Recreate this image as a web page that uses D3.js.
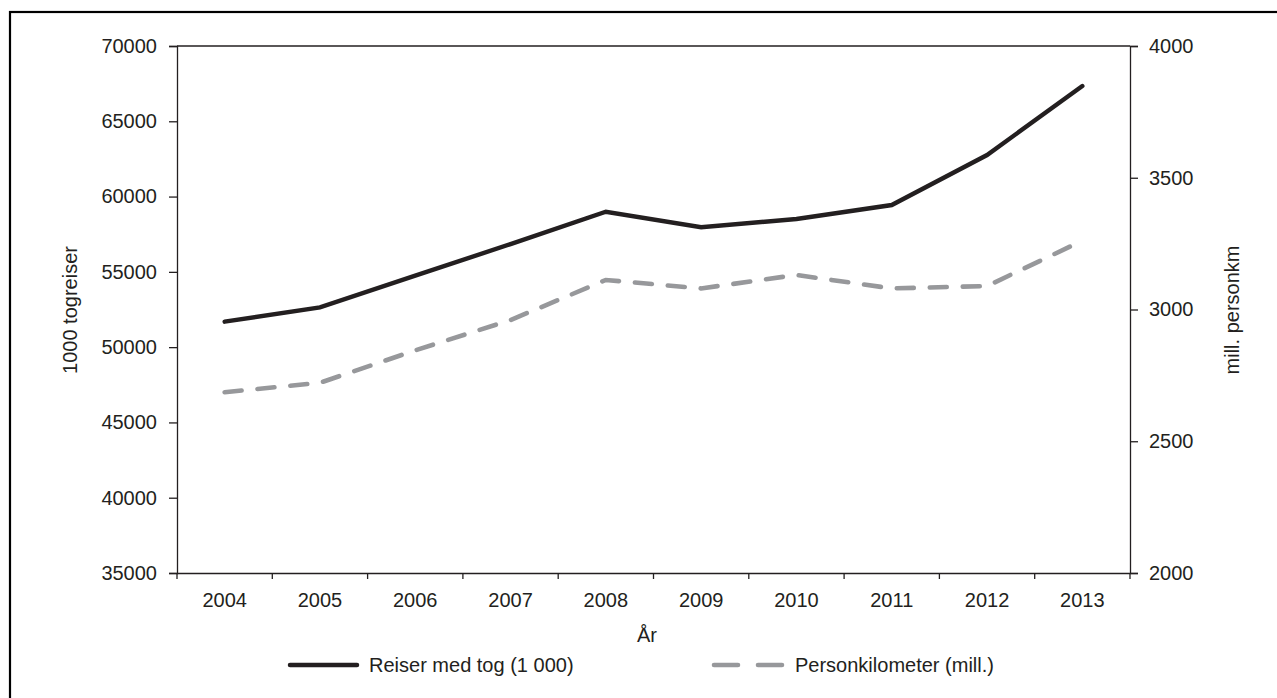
<!DOCTYPE html>
<html><head><meta charset="utf-8">
<script src="https://cdn.jsdelivr.net/npm/d3@7"></script>
<style>
body{margin:0;background:#fff;}
svg text{font-family:"Liberation Sans",Arial,sans-serif;fill:#231f20;}
</style></head>
<body><svg id="c" width="1277" height="698"></svg>
<script>
const years = ["2004","2005","2006","2007","2008","2009","2010","2011","2012","2013"];
const reiser = [51690,52645,54745,56845,58995,57960,58510,59440,62760,67340];
const personkm = [2686,2722,2845,2960,3112,3080,3131,3080,3089,3261];
const leftTicks = [35000,40000,45000,50000,55000,60000,65000,70000];
const rightTicks = [2000,2500,3000,3500,4000];
const seriesNames = ["Reiser med tog (1 000)","Personkilometer (mill.)"];

const svg = d3.select("#c");
const L=177,R=1130,T=46,B=573;
const ink="#231f20";
svg.append("rect").attr("x",10).attr("y",12).attr("width",1400).attr("height",800)
  .attr("fill","none").attr("stroke","#000").attr("stroke-width",2.2);

const x = d3.scaleBand().domain(years).range([L,R]).padding(0);
const yL = d3.scaleLinear().domain([35000,70000]).range([B,T]);
const yR = d3.scaleLinear().domain([2000,4000]).range([B,T]);

svg.append("line").attr("x1",L).attr("x2",R).attr("y1",T).attr("y2",T).attr("stroke",ink).attr("stroke-width",1.3);

const axL = svg.append("g").attr("transform",`translate(${L},0)`)
  .call(d3.axisLeft(yL).tickValues(leftTicks).tickSize(8).tickPadding(12).tickFormat(d3.format("d")));
const axR = svg.append("g").attr("transform",`translate(${R},0)`)
  .call(d3.axisRight(yR).tickValues(rightTicks).tickSize(8).tickPadding(11).tickFormat(d3.format("d")));
const axB = svg.append("g").attr("transform",`translate(0,${B})`)
  .call(d3.axisBottom(x).tickSize(0).tickPadding(20));
const bounds = years.map(y=>x(y)).concat([R]);
svg.append("g").selectAll("line").data(bounds).join("line")
  .attr("x1",d=>d).attr("x2",d=>d).attr("y1",B).attr("y2",B+6).attr("stroke",ink).attr("stroke-width",1.3);

[axL,axR,axB].forEach(a=>{
  a.selectAll("path.domain").attr("stroke",ink).attr("stroke-width",1.3);
  a.selectAll(".tick line").attr("stroke",ink).attr("stroke-width",1.3);
  a.selectAll("text").attr("font-size",20).style("font-family","'Liberation Sans',Arial,sans-serif").attr("fill",ink);
});
axB.select("path.domain").attr("d",`M${L},0.5H${R}`);

const cx = d=>x(d)+x.bandwidth()/2;
const line1 = d3.line().x((d,i)=>cx(years[i])).y(d=>yL(d));
const line2 = d3.line().x((d,i)=>cx(years[i])).y(d=>yR(d));
svg.append("path").attr("d",line1(reiser)).attr("fill","none").attr("stroke",ink)
  .attr("stroke-width",4.4).attr("stroke-linejoin","miter").attr("stroke-linecap","round");
svg.append("path").attr("d",line2(personkm)).attr("fill","none").attr("stroke","#97989b")
  .attr("stroke-width",4.6).attr("stroke-dasharray","17,16").attr("stroke-linecap","round");

svg.append("text").attr("transform","translate(70,310) rotate(-90)").attr("text-anchor","middle")
  .attr("dominant-baseline","central").attr("font-size",20).text("1000 togreiser");
svg.append("text").attr("transform","translate(1232,310) rotate(-90)").attr("text-anchor","middle")
  .attr("dominant-baseline","central").attr("font-size",20).text("mill. personkm");
svg.append("text").attr("x",647).attr("y",635).attr("text-anchor","middle")
  .attr("dominant-baseline","central").attr("font-size",20).text("År");

const lg = svg.append("g");
lg.append("line").attr("x1",290).attr("x2",357).attr("y1",665).attr("y2",665)
  .attr("stroke",ink).attr("stroke-width",4.5).attr("stroke-linecap","round");
lg.append("text").attr("x",369).attr("y",665).attr("dominant-baseline","central").attr("font-size",20).text(seriesNames[0]);
lg.append("line").attr("x1",714).attr("x2",782).attr("y1",665).attr("y2",665)
  .attr("stroke","#97989b").attr("stroke-width",4.6).attr("stroke-dasharray","24,20").attr("stroke-linecap","round");
lg.append("text").attr("x",795).attr("y",665).attr("dominant-baseline","central").attr("font-size",20).text(seriesNames[1]);
</script></body></html>
